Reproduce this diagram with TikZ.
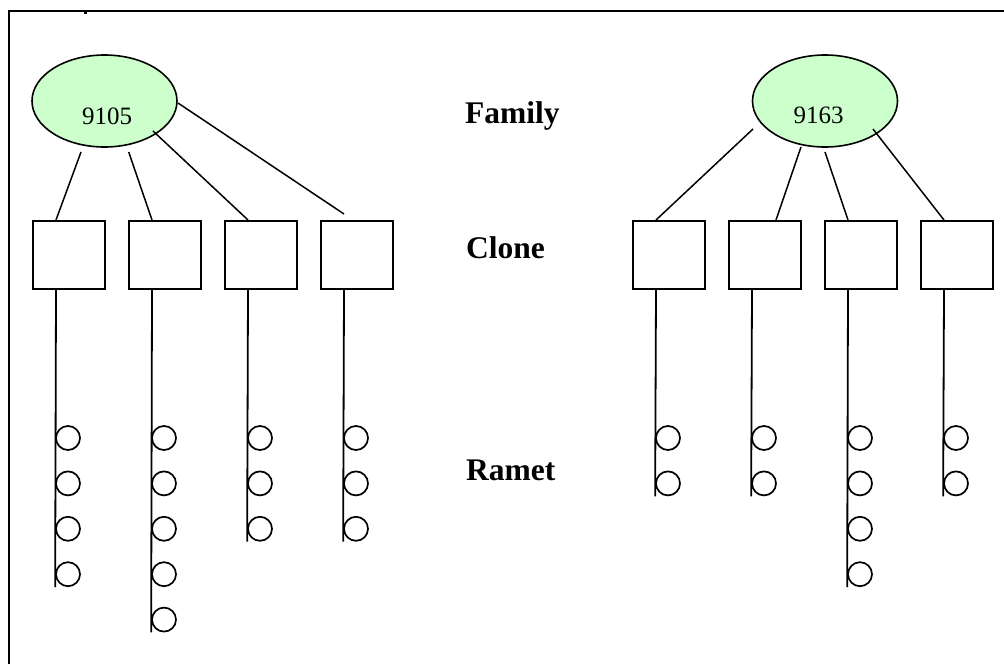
\documentclass[tikz,border=0pt]{standalone}
\usepackage{fontspec}
\setmainfont{Liberation Serif}
\usetikzlibrary{shapes.geometric,calc}
\definecolor{famgreen}{RGB}{204,255,204}
\begin{document}
\begin{tikzpicture}[x=1pt,y=-1pt,
 fam/.style={ellipse,draw,line width=1.6pt,fill=famgreen,minimum width=145pt,minimum height=92pt,inner sep=0pt},
 clonebox/.style={rectangle,draw,line width=2pt,minimum width=72pt,minimum height=68pt,inner sep=0pt},
 ramet/.style={circle,draw,line width=1.7pt,minimum size=24pt,inner sep=0pt},
 link/.style={line width=1.5pt},
 stem/.style={line width=1.8pt},
 lvl/.style={font=\fontsize{31.5}{36}\selectfont\bfseries,anchor=base west,inner sep=0pt},
 num/.style={font=\fontsize{25}{30}\selectfont,anchor=base,inner sep=0pt}]
\useasboundingbox (0,0) rectangle (1004,664);
% frame
\draw[line width=2.6pt] (9,664) -- (9,11) -- (1004,11);
\fill (84,12) rectangle (87,14);
% families
\node[fam] (f1) at (104.5,101) {};
\node[fam] (f2) at (825,101) {};
\node[num] (n1) at (107,124) {9105};
\node[num] (n2) at (818.5,123.3) {9163};
% clones
\foreach \i/\x in {1/69,2/165,3/261,4/357,5/669,6/765,7/861,8/957}
  \node[clonebox] (c\i) at (\x,255) {};
% connector start points
\coordinate (a1) at ($(f1.center)+(-23.5,51)$);
\coordinate (a2) at ($(f1.center)+(24.2,51)$);
\coordinate (a3) at ($(f1.center)+(48.5,30)$);
\coordinate (a4) at ($(f1.center)+(73.5,2)$);
\coordinate (b1) at ($(f2.center)+(-72,28)$);
\coordinate (b2) at ($(f2.center)+(-24,46)$);
\coordinate (b3) at ($(f2.center)+(0,51)$);
\coordinate (b4) at ($(f2.center)+(48,28)$);
\draw[link] (a1) -- ($(c1.north west)+(24,0)$);
\draw[link] (a2) -- ($(c2.north west)+(24,0)$);
\draw[link] (a3) -- ($(c3.north west)+(24,0)$);
\draw[link] (a4) -- ($(c4.north west)+(24,-6)$);
\draw[link] (b1) -- ($(c5.north west)+(24,0)$);
\draw[link] (b2) -- ($(c6.north west)+(48,0)$);
\draw[link] (b3) -- ($(c7.north west)+(24,0)$);
\draw[link] (b4) -- ($(c8.north west)+(24,0)$);
% ramets
\foreach \i/\n in {1/4,2/5,3/3,4/3,5/2,6/2,7/4,8/2} {
  \foreach \k in {1,...,\n} {
    \node[ramet] (r\i-\k) at ($(c\i.south west)+(36,{148+45.4*(\k-1)})$) {};
  }
  \draw[stem] ($(c\i.south west)+(24,0)$) -- (r\i-\n.west |- r\i-\n.south);
}
% level labels
\node[lvl] (lf) at (465,123.3) {Family};
\node[lvl] (lc) at (466,258) {Clone};
\node[lvl] (lr) at (466,480) {Ramet};
\end{tikzpicture}
\end{document}
